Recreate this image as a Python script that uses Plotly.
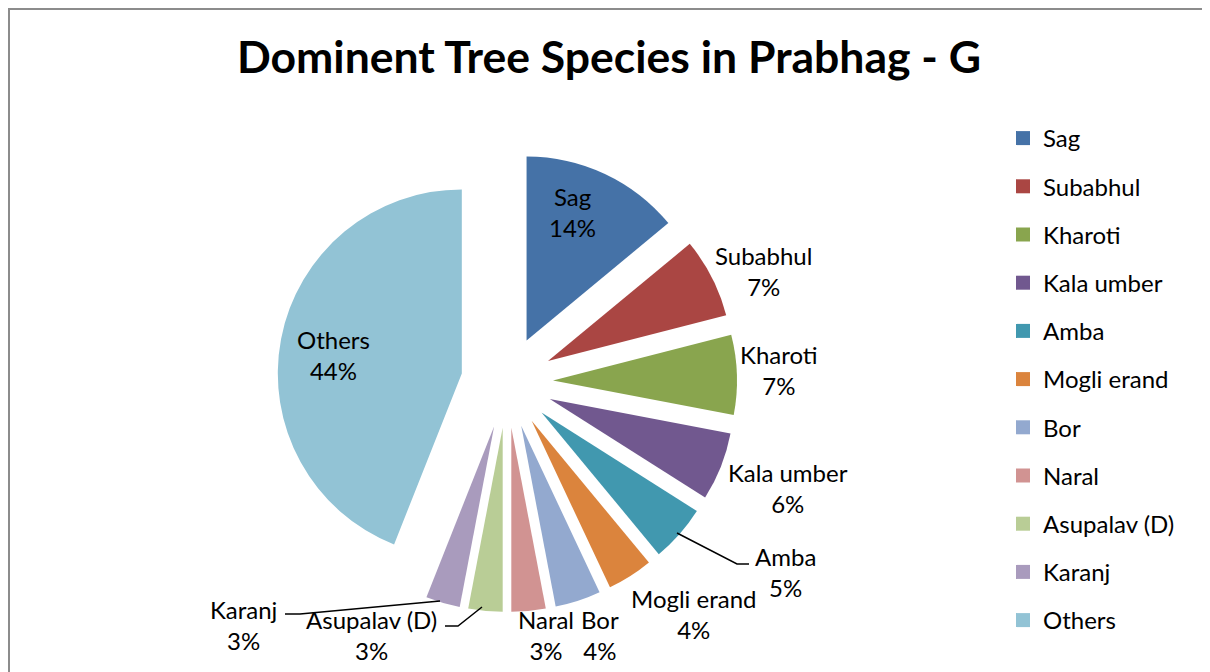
import plotly.graph_objects as go

labels = ["Sag", "Subabhul", "Kharoti", "Kala umber", "Amba", "Mogli erand",
          "Bor", "Naral", "Asupalav (D)", "Karanj", "Others"]
values = [14, 7, 7, 6, 5, 4, 4, 3, 3, 3, 44]
colors = ["#4572A7", "#AA4643", "#89A54E", "#71588F", "#4198AF", "#DB843D",
          "#93A9CF", "#D19392", "#B9CD96", "#A99BBD", "#92C3D5"]

W, H = 1210, 672
PAGE_OFFSET = 8  # default body margin of the html page
FONT = "Lato, Carlito, Calibri, sans-serif"

# Layout: where data labels sit (pixel centres on the page) and leader lines
label_px = {
    "Sag": (572, 212), "Others": (333, 355),
    "Subabhul": (763, 271), "Kharoti": (779, 370), "Kala umber": (788, 488),
    "Amba": (785, 572), "Mogli erand": (694, 614), "Bor": (600, 635),
    "Naral": (546, 635), "Asupalav (D)": (371, 635), "Karanj": (243, 625),
}
leader_px = {
    "Amba": [(677, 533), (737, 564), (749, 564)],
    "Asupalav (D)": [(482, 607), (458, 626), (445, 626)],
    "Karanj": [(440, 601), (300, 614), (285, 614)],
}

def px(x, y):
    return (x - PAGE_OFFSET) / W, 1 - (y - PAGE_OFFSET) / H

fig = go.Figure()
fig.add_trace(go.Pie(
    labels=labels, values=values, sort=False, direction="clockwise", rotation=0,
    marker=dict(colors=colors, line=dict(width=0)),
    pull=[0.25] * len(values),
    textinfo="none",
    showlegend=False, hoverinfo="label+percent",
    domain=dict(x=[269 / W, 729 / W], y=[1 - 604 / H, 1 - 144 / H]),
))

for lab, col in zip(labels, colors):
    fig.add_trace(go.Scatter(
        x=[None], y=[None], mode="markers", name=lab, legendgroup=lab,
        marker=dict(symbol="square", size=14, color=col),
        hoverinfo="skip",
    ))

total = sum(values)
annotations = []
for lab, v in zip(labels, values):
    x, y = px(*label_px[lab])
    annotations.append(dict(
        x=x, y=y, xref="paper", yref="paper", xanchor="center", yanchor="middle",
        text=f"{lab}<br>{round(v / total * 100)}%", showarrow=False, align="center",
        font=dict(family=FONT, size=24, color="black"),
    ))

shapes = [dict(type="rect", xref="paper", yref="paper",
               x0=1 / W, x1=1.02, y0=-0.02, y1=1 - 1 / H,
               line=dict(color="#8C8C8C", width=2), layer="below")]
for lab, pts in leader_px.items():
    path = "M " + " L ".join(f"{px(a, b)[0]},{px(a, b)[1]}" for a, b in pts)
    shapes.append(dict(type="path", xref="paper", yref="paper", path=path,
                       line=dict(color="black", width=1.5)))

tx, ty = px(609, 57)
fig.update_layout(
    width=W, height=H,
    margin=dict(l=0, r=0, t=0, b=0, autoexpand=False),
    paper_bgcolor="white", plot_bgcolor="white",
    font=dict(family=FONT, size=24, color="black"),
    title=dict(text="<b>Dominent Tree Species in Prabhag - G</b>",
               x=tx, xanchor="center", y=ty, yanchor="middle",
               font=dict(family=FONT, size=44.5, color="black")),
    xaxis=dict(visible=False), yaxis=dict(visible=False),
    legend=dict(x=995 / W, xanchor="left", y=1 - 108 / H, yanchor="top",
                tracegroupgap=14, font=dict(family=FONT, size=24, color="black"),
                bgcolor="rgba(0,0,0,0)"),
    annotations=annotations,
    shapes=shapes,
)

fig.write_html("out.html")
